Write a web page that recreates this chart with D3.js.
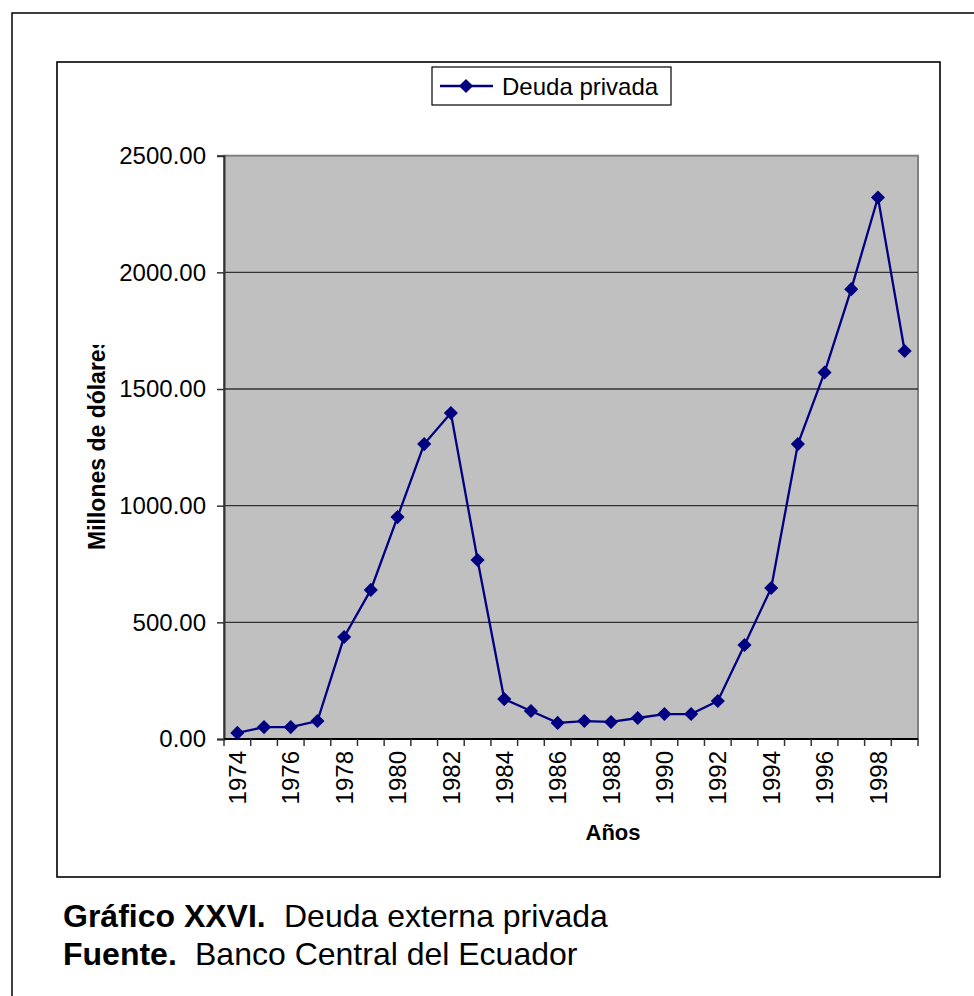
<!DOCTYPE html>
<html>
<head>
<meta charset="utf-8">
<script src="https://cdn.jsdelivr.net/npm/d3@7"></script>
<style>
html,body{margin:0;padding:0;background:#fff;}
svg{display:block;font-family:"Liberation Sans",Arial,sans-serif;}
</style>
</head>
<body>
<svg id="chart" width="974" height="996"></svg>
<script>
const years = [1974,1975,1976,1977,1978,1979,1980,1981,1982,1983,1984,1985,1986,1987,1988,1989,1990,1991,1992,1993,1994,1995,1996,1997,1998,1999];
const deudaPrivada = [26,51,51,77,437,639,951,1264,1397,767,171,120,69,77,73,90,107,107,163,403,647,1264,1571,1928,2321,1663];
const yTicks = [0,500,1000,1500,2000,2500];
const xLabelYears = [1974,1976,1978,1980,1982,1984,1986,1988,1990,1992,1994,1996,1998];
const seriesName = "Deuda privada";
const yTitle = "Millones de dólares";
const xTitle = "Años";

const FONT = "'Liberation Sans',Arial,sans-serif";
const svg = d3.select("#chart");
const P = {left:224, right:918, top:155.7, bottom:739};

// outer page border
svg.append("rect").attr("x",12).attr("y",13).attr("width",1000).attr("height",1100)
  .attr("fill","none").attr("stroke","#000").attr("stroke-width",1.5);
// chart frame
svg.append("rect").attr("x",57).attr("y",62).attr("width",883).attr("height",815)
  .attr("fill","#fff").attr("stroke","#000").attr("stroke-width",1.6);

const x = d3.scaleBand().domain(years).range([P.left,P.right]).padding(0);
const y = d3.scaleLinear().domain([0,2500]).range([P.bottom,P.top]);

// plot area
svg.append("rect").attr("x",P.left).attr("y",P.top).attr("width",P.right-P.left).attr("height",P.bottom-P.top)
  .attr("fill","#c0c0c0").attr("stroke","#808080").attr("stroke-width",2);

// gridlines
svg.append("g").selectAll("line").data(yTicks.filter(d=>d>0 && d<2500)).join("line")
  .attr("x1",P.left).attr("x2",P.right).attr("y1",d=>y(d)).attr("y2",d=>y(d))
  .attr("stroke","#333").attr("stroke-width",1.3);

// y axis
const yAxis = d3.axisLeft(y).tickValues(yTicks).tickFormat(d3.format(".2f")).tickSize(7).tickPadding(11);
const gy = svg.append("g").attr("transform",`translate(${P.left},0)`).call(yAxis);
gy.select(".domain").attr("stroke","#333").attr("stroke-width",2);
gy.selectAll(".tick line").attr("stroke","#333").attr("stroke-width",1.5);
gy.selectAll(".tick text").attr("font-size",24).attr("fill","#000").attr("font-family",FONT);

// x axis baseline
svg.append("line").attr("x1",P.left).attr("x2",P.right).attr("y1",y(0)).attr("y2",y(0))
  .attr("stroke","#000").attr("stroke-width",2);
// x tick marks at category boundaries
const bounds = years.map(d=>x(d)).concat([x(years[years.length-1])+x.bandwidth()]);
svg.append("g").selectAll("line").data(bounds).join("line")
  .attr("x1",d=>d).attr("x2",d=>d).attr("y1",y(0)).attr("y2",y(0)+7)
  .attr("stroke","#333").attr("stroke-width",1.5);
// x labels
const xAxis = d3.axisBottom(x).tickValues(xLabelYears).tickSize(0);
const gx = svg.append("g").attr("transform",`translate(0,${y(0)})`).call(xAxis);
gx.select(".domain").remove();
gx.selectAll(".tick text")
  .attr("font-size",24).attr("fill","#000").attr("font-family",FONT)
  .attr("text-anchor","end").attr("transform","rotate(-90)")
  .attr("x",-12).attr("y",0).attr("dy","0.36em");

// axis titles
const defs = svg.append("defs");
defs.append("clipPath").attr("id","ytclip").append("rect").attr("x",60).attr("y",345).attr("width",80).attr("height",300);
svg.append("g").attr("clip-path","url(#ytclip)")
  .append("text")
  .attr("transform","translate(105,550) rotate(-90)")
  .attr("text-anchor","start").attr("font-size",23).attr("font-weight","bold").attr("font-family",FONT).text(yTitle);
svg.append("text").attr("x",613).attr("y",840).attr("text-anchor","middle")
  .attr("font-size",22).attr("font-weight","bold").text(xTitle);

// series
const line = d3.line().x((d,i)=>x(years[i])+x.bandwidth()/2).y(d=>y(d));
svg.append("path").datum(deudaPrivada).attr("d",line)
  .attr("fill","none").attr("stroke","#000080").attr("stroke-width",2.3);
const diamond = d3.symbol().type(d3.symbolSquare).size(100);
svg.append("g").selectAll("path").data(deudaPrivada).join("path")
  .attr("d",diamond)
  .attr("transform",(d,i)=>`translate(${x(years[i])+x.bandwidth()/2},${y(d)}) rotate(45)`)
  .attr("fill","#000080");

// legend
const lg = svg.append("g");
lg.append("rect").attr("x",432).attr("y",67).attr("width",239).attr("height",38)
  .attr("fill","#fff").attr("stroke","#000").attr("stroke-width",1.2);
lg.append("line").attr("x1",440).attr("x2",493).attr("y1",86).attr("y2",86)
  .attr("stroke","#000080").attr("stroke-width",2.3);
lg.append("path").attr("d",diamond).attr("transform","translate(466,86) rotate(45)").attr("fill","#000080");
lg.append("text").attr("x",502).attr("y",95).attr("font-size",24).text(seriesName);

// footer
const ft = svg.append("g").attr("font-size",32);
ft.append("text").attr("x",63).attr("y",927).attr("font-weight","bold").text("Gráfico XXVI.");
ft.append("text").attr("x",284).attr("y",927).text("Deuda externa privada");
ft.append("text").attr("x",63).attr("y",965).attr("font-weight","bold").text("Fuente.");
ft.append("text").attr("x",195).attr("y",965).text("Banco Central del Ecuador");
</script>
</body>
</html>
